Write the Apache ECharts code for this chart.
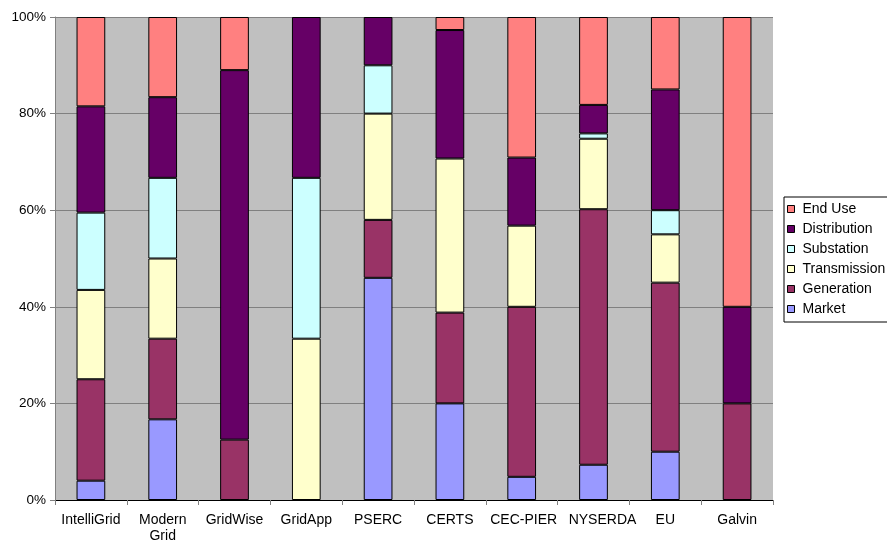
<!DOCTYPE html>
<html><head><meta charset="utf-8">
<script src="https://cdn.jsdelivr.net/npm/echarts@6/dist/echarts.min.js"></script>
<style>html,body{margin:0;padding:0;background:#fff}#c{width:887px;height:544px}</style>
</head><body><div id="c"></div>
<script>
const categories = ['IntelliGrid', 'Modern\nGrid', 'GridWise', 'GridApp', 'PSERC', 'CERTS', 'CEC-PIER', 'NYSERDA', 'EU', 'Galvin'];
const market       = [4,    16.7, 0,    0,    46, 20,   4.8,  7.3,  10, 0];
const generation   = [21,   16.7, 12.5, 0,    12, 18.8, 35.2, 52.9, 35, 20];
const transmission = [18.5, 16.6, 0,    33.4, 22, 31.9, 16.8, 14.6, 10, 0];
const substation   = [16,   16.7, 0,    33.3, 10, 0,    0,    1.1,  5,  0];
const distribution = [22,   16.7, 76.5, 33.3, 10, 26.6, 14.1, 5.9,  25, 20];
const endUse       = [18.5, 16.6, 11,   0,    0,  2.7,  29.1, 18.2, 15, 60];
const yTicks = [0, 20, 40, 60, 80, 100];

const font = 'Liberation Sans, Arial, sans-serif';
const seriesDefs = [
  ['Market', market, '#9999FF'],
  ['Generation', generation, '#993366'],
  ['Transmission', transmission, '#FFFFCC'],
  ['Substation', substation, '#CCFFFF'],
  ['Distribution', distribution, '#660066'],
  ['End Use', endUse, '#FF8080']
];
// labels nudged right like the reference does to avoid crowding
const labelShift = {'CEC-PIER': 4, 'NYSERDA': 18};
const chart = echarts.init(document.getElementById('c'), null, {renderer: 'canvas'});
chart.setOption({
  animation: false,
  textStyle: {fontFamily: font},
  grid: {left: 55, top: 17, width: 718, height: 483, show: true, backgroundColor: '#C0C0C0', borderWidth: 0},
  legend: {
    data: seriesDefs.map(s => s[0]).reverse(),
    orient: 'vertical',
    left: 784, top: 197,
    itemWidth: 7, itemHeight: 7, itemGap: 6,
    padding: [5, 20, 6, 3],
    borderColor: '#000', borderWidth: 1,
    textStyle: {fontSize: 14, lineHeight: 14, color: '#000', fontFamily: font, padding: [0, 0, 0, 3]},
    itemStyle: {borderColor: '#000', borderWidth: 1},
    icon: 'rect'
  },
  xAxis: {
    type: 'category',
    data: categories.map(c => labelShift[c] ? {value: c, textStyle: {padding: [0, 0, 0, labelShift[c]]}} : c),
    axisLine: {lineStyle: {color: '#000'}},
    axisTick: {show: true, alignWithLabel: false, length: 5, lineStyle: {color: '#808080'}},
    axisLabel: {fontSize: 14, color: '#000', fontFamily: font, margin: 12, lineHeight: 16, interval: 0}
  },
  yAxis: {
    type: 'value', min: yTicks[0], max: yTicks[yTicks.length - 1], interval: 20,
    axisLine: {show: true, lineStyle: {color: '#808080'}},
    axisTick: {show: true, length: 5, lineStyle: {color: '#808080'}},
    axisLabel: {formatter: '{value}%', fontSize: 13.5, color: '#000', fontFamily: font, margin: 9},
    splitLine: {lineStyle: {color: '#808080', width: 1}}
  },
  series: seriesDefs.map(([name, data, color]) => ({
    name, type: 'bar', stack: 'all',
    data: data.map(v => (v === 0 ? '-' : v)),
    barWidth: '40%',
    itemStyle: {color, borderColor: '#000', borderWidth: 1}
  }))
});
</script></body></html>
